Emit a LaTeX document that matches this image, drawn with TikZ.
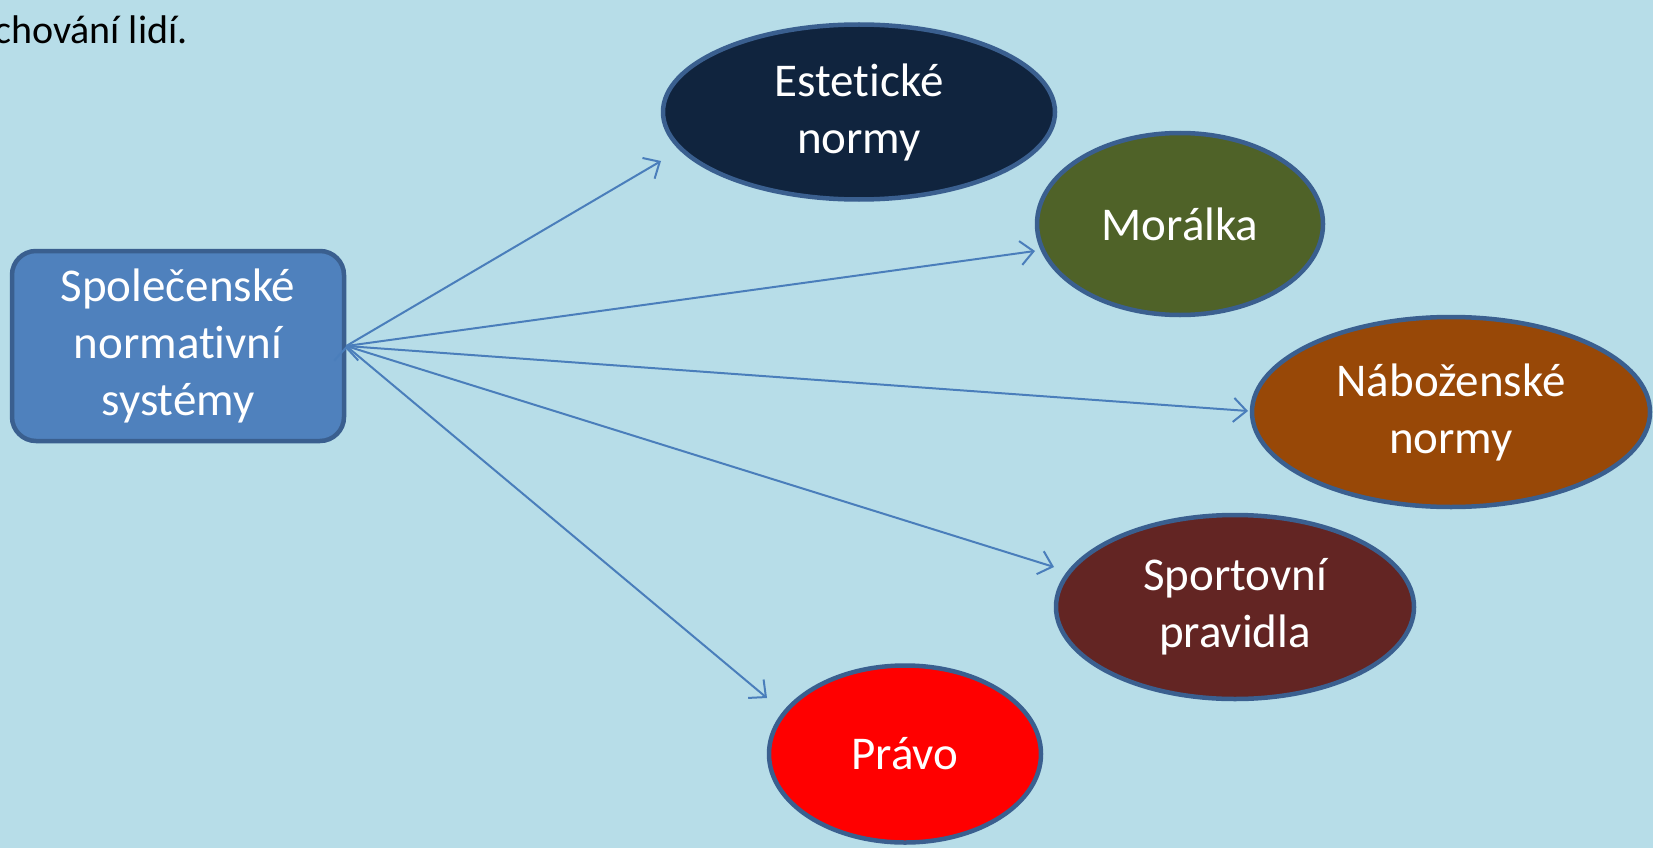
\documentclass[tikz,border=0pt]{standalone}
\usepackage{fontspec}
\setmainfont{Carlito}[Ligatures=NoCommon]
\usetikzlibrary{arrows.meta,shapes.geometric}

\definecolor{bg}{HTML}{B7DDE8}
\definecolor{rim}{HTML}{3A5F8F}
\definecolor{boxfill}{HTML}{4F81BD}
\definecolor{arrowcol}{HTML}{4A7EBB}
\definecolor{estfill}{HTML}{10243E}
\definecolor{morfill}{HTML}{4F6228}
\definecolor{nabfill}{HTML}{984807}
\definecolor{spofill}{HTML}{632523}

\tikzset{
  norm/.style={ellipse, draw=rim, line width=4.5pt, inner sep=0pt, text=white,
    align=center, font=\fontsize{47}{57}\selectfont},
  sysbox/.style={rectangle, rounded corners=24pt, draw=rim, line width=4.5pt,
    fill=boxfill, text=white, align=center, minimum width=332pt,
    minimum height=190pt, font=\fontsize{47}{57}\selectfont},
  arr/.style={draw=arrowcol, line width=2pt,
    -{Straight Barb[length=13pt,width=24pt,line width=2pt]}}
}

\begin{document}
\begin{tikzpicture}[x=1pt,y=-1pt]
  \fill[bg] (0,0) rectangle (1653,848);
  \useasboundingbox (0,0) rectangle (1653,848);
  \node[anchor=base west, inner sep=0pt, font=\fontsize{40}{48}\selectfont] (top) at (-6,44) {chování lidí.};

  \node[sysbox] (sys) at (178,346) {Společenské\\normativní\\systémy};

  \node[norm, fill=estfill, minimum width=392pt, minimum height=175pt] (est) at (859,112) {Estetické\\normy};
  \node[norm, fill=morfill, minimum width=286pt, minimum height=182pt] (mor) at (1180,224) {Morálka};
  \node[norm, fill=nabfill, minimum width=398pt, minimum height=190pt] (nab) at (1451,412) {Náboženské\\normy};
  \node[norm, fill=spofill, minimum width=358pt, minimum height=184pt] (spo) at (1235,607) {Sportovní\\pravidla};
  \node[norm, fill=red, minimum width=272pt, minimum height=177pt] (pra) at (905,754) {Právo};

  % arrow tips
  \coordinate (t1) at (661,161);
  \coordinate (t2) at (1035,251);
  \coordinate (t3) at (1248,411);
  \coordinate (t4) at (1054,567);
  \coordinate (t5) at (767,698);

  \path[arr]
    (sys.east) edge (t1)
    (sys.east) edge (t2)
    (sys.east) edge (t3)
    (sys.east) edge (t4)
    (sys.east) edge (t5);
\end{tikzpicture}
\end{document}
